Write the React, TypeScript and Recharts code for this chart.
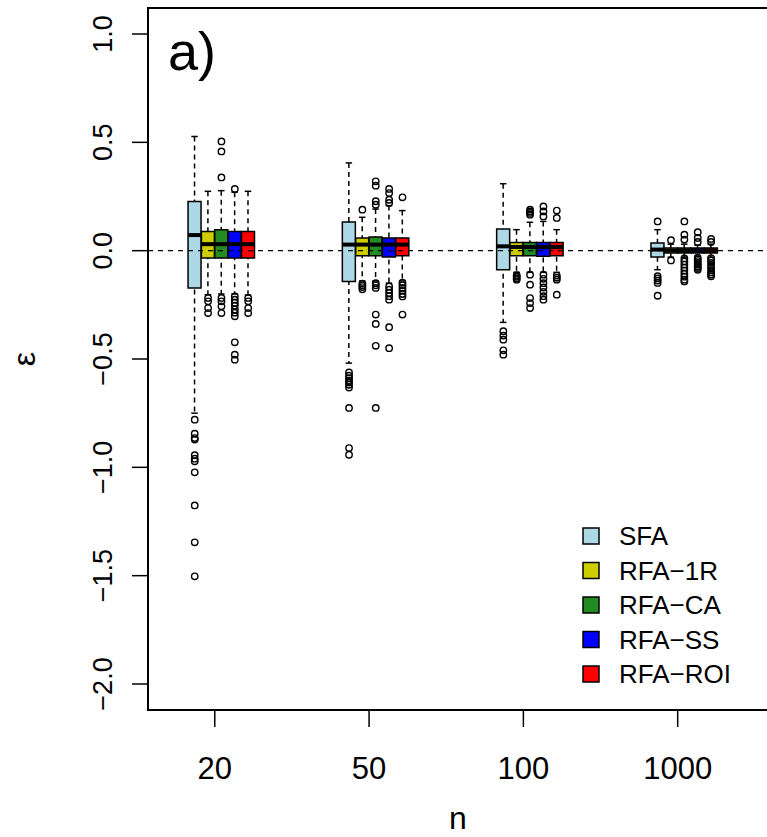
import { ComposedChart, Bar, Scatter, XAxis, YAxis, ReferenceLine, ReferenceArea, Cell } from 'recharts'

const FONT = '"Liberation Sans", Arial, Helvetica, sans-serif'

const nLabels = ['20', '50', '100', '1000']
const methods = ['SFA', 'RFA−1R', 'RFA−CA', 'RFA−SS', 'RFA−ROI']
const methodColors = ['#add8e6', '#cdcd00', '#228b22', '#0000ff', '#ff0000']
const yTicks = [-2, -1.5, -1, -0.5, 0, 0.5, 1]

// per n: [lower whisker, Q1, median, Q3, upper whisker]
const sfaStats = [
  [-0.75, -0.172, 0.072, 0.227, 0.527],
  [-0.519, -0.142, 0.028, 0.132, 0.405],
  [-0.331, -0.088, 0.02, 0.1, 0.309],
  [-0.088, -0.029, 0.005, 0.035, 0.097],
]
const rfa1rStats = [
  [-0.203, -0.034, 0.03, 0.089, 0.274],
  [-0.14, -0.023, 0.028, 0.059, 0.154],
  [-0.1, -0.023, 0.017, 0.038, 0.097],
  [-0.03, -0.011, 0, 0.012, 0.03],
]
const rfaCaStats = [
  [-0.2, -0.034, 0.03, 0.097, 0.277],
  [-0.14, -0.023, 0.028, 0.063, 0.192],
  [-0.1, -0.023, 0.017, 0.038, 0.131],
  [-0.03, -0.011, 0, 0.012, 0.03],
]
const rfaSsStats = [
  [-0.2, -0.034, 0.03, 0.089, 0.27],
  [-0.15, -0.029, 0.028, 0.059, 0.208],
  [-0.1, -0.026, 0.017, 0.038, 0.135],
  [-0.025, -0.011, 0, 0.012, 0.025],
]
const rfaRoiStats = [
  [-0.205, -0.034, 0.03, 0.089, 0.274],
  [-0.14, -0.023, 0.028, 0.059, 0.185],
  [-0.1, -0.023, 0.017, 0.038, 0.097],
  [-0.03, -0.011, 0, 0.012, 0.03],
]

const sfaOutliers = [
  [-0.78, -0.845, -0.865, -0.872, -0.944, -0.96, -0.972, -1.023, -1.176, -1.346, -1.503],
  [-0.562, -0.577, -0.588, -0.6, -0.609, -0.619, -0.632, -0.726, -0.911, -0.942],
  [-0.372, -0.392, -0.411, -0.46, -0.48],
  [0.135, -0.118, -0.128, -0.138, -0.149, -0.208],
]
const rfa1rOutliers = [
  [-0.218, -0.234, -0.265, -0.288],
  [0.189, -0.152, -0.16, -0.168, -0.178],
  [-0.113, -0.12, -0.127, -0.134],
  [0.048, -0.045],
]
const rfaCaOutliers = [
  [0.504, 0.458, 0.338, -0.218, -0.234, -0.257, -0.288],
  [0.32, 0.3, 0.228, 0.212, -0.15, -0.16, -0.172, -0.295, -0.338, -0.439, -0.726],
  [0.189, 0.181, 0.174, 0.166, -0.111, -0.157, -0.219, -0.242, -0.265],
  [0.135, 0.074, 0.051, -0.036, -0.05, -0.064, -0.078, -0.092, -0.106, -0.12, -0.134, -0.142],
]
const rfaSsOutliers = [
  [0.285, -0.211, -0.226, -0.24, -0.254, -0.272, -0.286, -0.303, -0.423, -0.48, -0.503],
  [0.285, 0.266, 0.235, 0.22, -0.165, -0.18, -0.195, -0.21, -0.226, -0.353, -0.45],
  [0.204, 0.181, 0.158, -0.111, -0.13, -0.15, -0.17, -0.19, -0.21, -0.226],
  [0.085, 0.059, 0.04, -0.032, -0.04, -0.048, -0.056, -0.064, -0.072, -0.08, -0.088],
]
const rfaRoiOutliers = [
  [-0.218, -0.234, -0.265, -0.288],
  [0.246, -0.148, -0.16, -0.172, -0.186, -0.2, -0.211, -0.295],
  [0.185, 0.151, -0.115, -0.125, -0.134, -0.203],
  [0.054, 0.04, -0.034, -0.045, -0.056, -0.067, -0.078, -0.09, -0.1, -0.11, -0.118],
]

const allStats = [sfaStats, rfa1rStats, rfaCaStats, rfaSsStats, rfaRoiStats]
const allOutliers = [sfaOutliers, rfa1rOutliers, rfaCaOutliers, rfaSsOutliers, rfaRoiOutliers]

// box spacing inside a group, in units of group spacing
const BOX_STEP = 0.0866
const boxX = (g: number, m: number) => g + 1 + (m - 2) * BOX_STEP
const xTicks = nLabels.map((_, g) => g + 1 - BOX_STEP / 2)

const boxRows: any[] = []
const medianRows: any[] = []
const outlierRows: any[] = []
allStats.forEach((stats, m) => {
  stats.forEach((s, g) => {
    const x = boxX(g, m)
    boxRows.push({ x, whisker: [s[0], s[4]], box: [s[1], s[3]], color: methodColors[m] })
    medianRows.push({ x, y: s[2] })
    allOutliers[m][g].forEach((v) => outlierRows.push({ x, y: v }))
  })
})

function WhiskerShape(props: any) {
  const { x, y, width, height } = props
  const cx = x + width / 2
  const cap = width / 4
  return (
    <g stroke="#000" strokeWidth={1.5}>
      <line x1={cx} x2={cx} y1={y} y2={y + height} strokeDasharray="5 4" />
      <line x1={cx - cap} x2={cx + cap} y1={y} y2={y} />
      <line x1={cx - cap} x2={cx + cap} y1={y + height} y2={y + height} />
    </g>
  )
}

function MedianShape(props: any) {
  const { cx, cy } = props
  return <line x1={cx - 6.7} x2={cx + 6.7} y1={cy} y2={cy} stroke="#000" strokeWidth={4} />
}

function OutlierShape(props: any) {
  const { cx, cy } = props
  return <circle cx={cx} cy={cy} r={3.2} fill="none" stroke="#000" strokeWidth={1.4} />
}

function YTick(props: any) {
  const { x, y, payload } = props
  const label = payload.value.toFixed(1).replace('-', '−')
  return (
    <text
      x={x}
      y={y}
      transform={`rotate(-90 ${x} ${y})`}
      textAnchor="middle"
      fontSize={27}
      fontFamily={FONT}
      fill="#000"
    >
      {label}
    </text>
  )
}

export default function App() {
  return (
    <div
      style={{
        position: 'absolute',
        left: 0,
        top: 0,
        width: 767,
        height: 837,
        overflow: 'hidden',
        background: '#fff',
      }}
    >
      <ComposedChart width={778} height={837} data={boxRows} margin={{ top: 8, right: 10, left: 0, bottom: 0 }}>
        <XAxis
          xAxisId="main"
          type="number"
          dataKey="x"
          domain={[0.524, 4.542]}
          allowDataOverflow
          ticks={xTicks}
          tickFormatter={(_v: number, i: number) => nLabels[i]}
          interval={0}
          height={127}
          axisLine={false}
          tickSize={17}
          tickMargin={30}
          tickLine={{ stroke: '#000', strokeWidth: 1.5 }}
          tick={{ fill: '#000', fontSize: 31, fontFamily: FONT }}
        />
        <XAxis xAxisId="box" type="number" dataKey="x" domain={[0.524, 4.542]} allowDataOverflow height={0} hide />
        <YAxis
          type="number"
          dataKey="y"
          domain={[-2.12, 1.12]}
          allowDataOverflow
          ticks={yTicks}
          interval={0}
          width={148}
          axisLine={false}
          tickSize={16}
          tickMargin={20}
          tickLine={{ stroke: '#000', strokeWidth: 1.5 }}
          tick={<YTick />}
        />
        <ReferenceArea
          xAxisId="main"
          x1={0.524}
          x2={4.542}
          y1={-2.12}
          y2={1.12}
          fill="none"
          fillOpacity={0}
          stroke="#000"
          strokeWidth={2}
        />
        <ReferenceLine xAxisId="main" y={0} stroke="#000" strokeWidth={1.3} strokeDasharray="5 5" />
        <Bar xAxisId="main" dataKey="whisker" barSize={13} shape={<WhiskerShape />} isAnimationActive={false} />
        <Bar xAxisId="box" dataKey="box" barSize={13} stroke="#000" strokeWidth={1.5} isAnimationActive={false}>
          {boxRows.map((r, i) => (
            <Cell key={`box-${i}`} fill={r.color} />
          ))}
        </Bar>
        <Scatter xAxisId="main" data={medianRows} shape={<MedianShape />} isAnimationActive={false} />
        <Scatter xAxisId="main" data={outlierRows} shape={<OutlierShape />} isAnimationActive={false} />
      </ComposedChart>
      <svg
        width={767}
        height={837}
        style={{ position: 'absolute', left: 0, top: 0, pointerEvents: 'none' }}
        fontFamily={FONT}
      >
        <text x={168} y={70} fontSize={54} fill="#000">
          a)
        </text>
        <text x={35} y={359} transform="rotate(-90 35 359)" textAnchor="middle" fontSize={32} fill="#000">
          ε
        </text>
        <text x={458} y={829} textAnchor="middle" fontSize={32} fill="#000">
          n
        </text>
        {methods.map((name, i) => (
          <g key={name}>
            <rect
              x={583}
              y={528 + i * 34.5}
              width={16}
              height={16}
              fill={methodColors[i]}
              stroke="#000"
              strokeWidth={1.5}
            />
            <text x={619} y={545 + i * 34.5} fontSize={26} fill="#000">
              {name}
            </text>
          </g>
        ))}
      </svg>
    </div>
  )
}
